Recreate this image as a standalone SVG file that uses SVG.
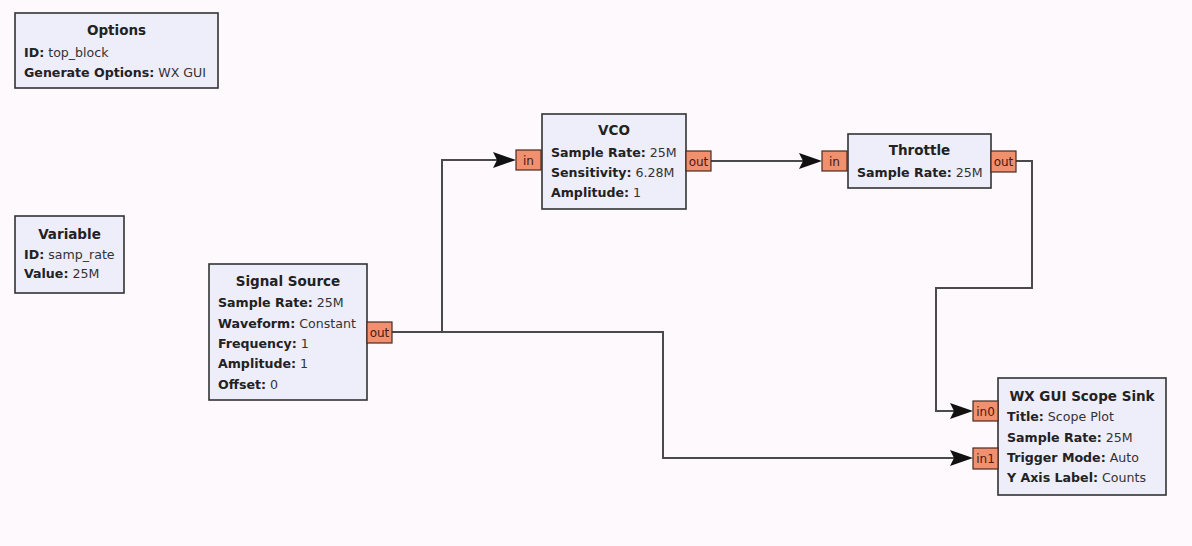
<svg xmlns="http://www.w3.org/2000/svg" width="1192" height="546" viewBox="0 0 1192 546">
<style>
.bg{fill:#fdf9fd}
.blk{fill:#eeedfa;stroke:#333;stroke-width:1.6}
.port{fill:#f0906f;stroke:#4a2a20;stroke-width:1.2}
text{font-family:"DejaVu Sans","Noto Sans",sans-serif;font-size:12.6px;fill:#222}
.t{font-weight:bold;text-anchor:middle;font-size:13.5px}
.k{font-weight:bold}
.v{font-weight:normal;fill:#333}
.pt{font-size:12px;fill:#4a1a10;text-anchor:middle}
.wire{fill:none;stroke:#4a4a4a;stroke-width:2}
.ah{fill:#111}
</style>
<defs>
<path id="arr" d="M0,0 L-23,-8 L-19,0 L-23,8 Z"/>
</defs>
<rect class="bg" x="0" y="0" width="1192" height="546"/>
<g id="connectors">
<path class="wire" d="M392,332 H442 V160 H497"/>
<path class="wire" d="M442,332 H663 V458 H954"/>
<path class="wire" d="M711,161 H803"/>
<path class="wire" d="M1016,161 H1032 V288 H936 V411 H954"/>
<use href="#arr" class="ah" x="516" y="160"/>
<use href="#arr" class="ah" x="973" y="458"/>
<use href="#arr" class="ah" x="822" y="161"/>
<use href="#arr" class="ah" x="973" y="411"/>
</g>
<g id="options">
<rect class="blk" x="15" y="13" width="203" height="75"/>
<text class="t" x="116.5" y="35">Options</text>
<text x="24" y="56.5"><tspan class="k">ID:</tspan><tspan class="v"> top_block</tspan></text>
<text x="24" y="76.5"><tspan class="k">Generate Options:</tspan><tspan class="v"> WX GUI</tspan></text>
</g>
<g id="variable">
<rect class="blk" x="15" y="216" width="109" height="77"/>
<text class="t" x="69.5" y="239">Variable</text>
<text x="24" y="258.5"><tspan class="k">ID:</tspan><tspan class="v"> samp_rate</tspan></text>
<text x="24" y="278"><tspan class="k">Value:</tspan><tspan class="v"> 25M</tspan></text>
</g>
<g id="signal_source">
<rect class="blk" x="209" y="264" width="158" height="136"/>
<rect class="port" x="367" y="322" width="25" height="21"/>
<text class="pt" x="379.5" y="337">out</text>
<text class="t" x="288" y="286">Signal Source</text>
<text x="218" y="307"><tspan class="k">Sample Rate:</tspan><tspan class="v"> 25M</tspan></text>
<text x="218" y="327.5"><tspan class="k">Waveform:</tspan><tspan class="v"> Constant</tspan></text>
<text x="218" y="347.5"><tspan class="k">Frequency:</tspan><tspan class="v"> 1</tspan></text>
<text x="218" y="368"><tspan class="k">Amplitude:</tspan><tspan class="v"> 1</tspan></text>
<text x="218" y="388.5"><tspan class="k">Offset:</tspan><tspan class="v"> 0</tspan></text>
</g>
<g id="vco">
<rect class="blk" x="542" y="114" width="144" height="95"/>
<rect class="port" x="516" y="150" width="25" height="20"/>
<text class="pt" x="528.5" y="164.5">in</text>
<rect class="port" x="686" y="151" width="25" height="20"/>
<text class="pt" x="698.5" y="165.5">out</text>
<text class="t" x="614" y="135">VCO</text>
<text x="551" y="156.5"><tspan class="k">Sample Rate:</tspan><tspan class="v"> 25M</tspan></text>
<text x="551" y="177"><tspan class="k">Sensitivity:</tspan><tspan class="v"> 6.28M</tspan></text>
<text x="551" y="197"><tspan class="k">Amplitude:</tspan><tspan class="v"> 1</tspan></text>
</g>
<g id="throttle">
<rect class="blk" x="848" y="134" width="143" height="54"/>
<rect class="port" x="822" y="151" width="25" height="20"/>
<text class="pt" x="834.5" y="165.5">in</text>
<rect class="port" x="991" y="151" width="25" height="21"/>
<text class="pt" x="1003.5" y="166">out</text>
<text class="t" x="919.5" y="154.5">Throttle</text>
<text x="857" y="176.5"><tspan class="k">Sample Rate:</tspan><tspan class="v"> 25M</tspan></text>
</g>
<g id="scope_sink">
<rect class="blk" x="998" y="378" width="168" height="117"/>
<rect class="port" x="973" y="401" width="25" height="20"/>
<text class="pt" x="985.5" y="415.5">in0</text>
<rect class="port" x="973" y="448" width="25" height="21"/>
<text class="pt" x="985.5" y="463">in1</text>
<text class="t" x="1082" y="400.5">WX GUI Scope Sink</text>
<text x="1007" y="421"><tspan class="k">Title:</tspan><tspan class="v"> Scope Plot</tspan></text>
<text x="1007" y="441.5"><tspan class="k">Sample Rate:</tspan><tspan class="v"> 25M</tspan></text>
<text x="1007" y="461.5"><tspan class="k">Trigger Mode:</tspan><tspan class="v"> Auto</tspan></text>
<text x="1007" y="481.5"><tspan class="k">Y Axis Label:</tspan><tspan class="v"> Counts</tspan></text>
</g>
</svg>
